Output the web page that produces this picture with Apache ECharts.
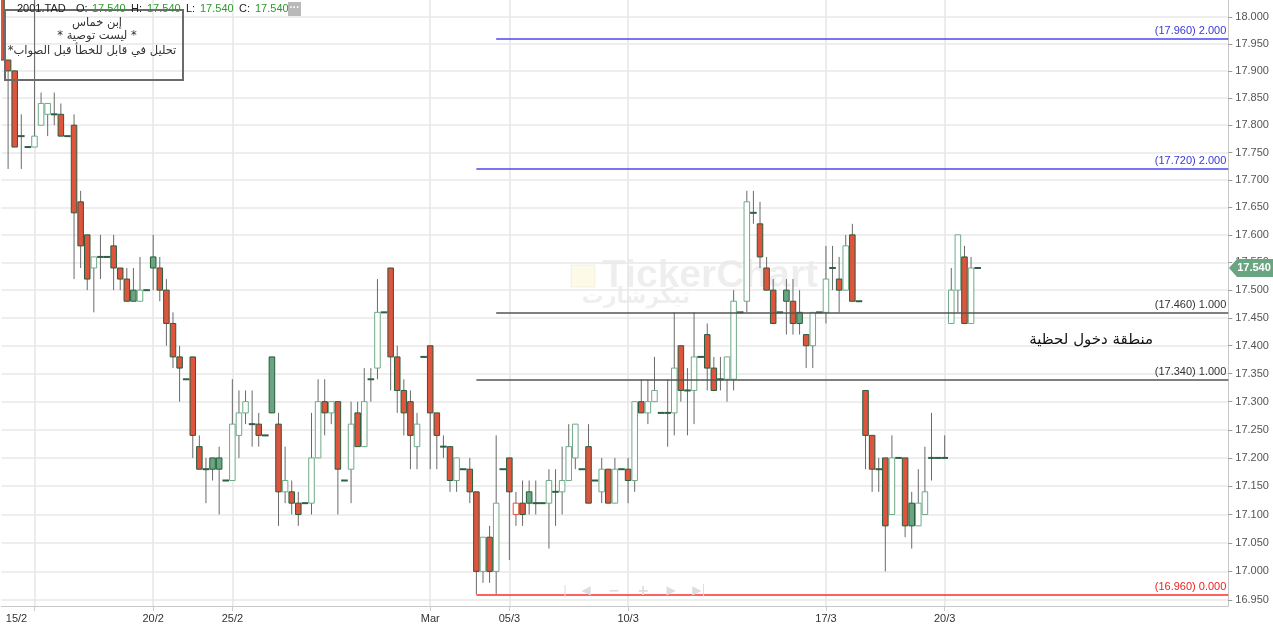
<!DOCTYPE html>
<html><head><meta charset="utf-8">
<script src="https://cdn.jsdelivr.net/npm/echarts@6/dist/echarts.min.js"></script>
<style>html,body{margin:0;padding:0;background:#fff}#c{width:1273px;height:628px}</style>
</head><body><div id="c"></div>
<script>
// ---- data ----
const tickLabels = ['15/2','20/2','25/2','Mar','05/3','10/3','17/3','20/3'];
const tickIndex = [5,23,35,65,77,95,125,143];
const yTicks = [16.95,17.00,17.05,17.10,17.15,17.20,17.25,17.30,17.35,17.40,17.45,17.50,17.55,17.60,17.65,17.70,17.75,17.80,17.85,17.90,17.95,18.00];

const opens = [
18.06,17.92,17.90,17.78,17.76,17.76,17.80,17.82,17.82,17.82,
17.78,17.80,17.66,17.60,17.54,17.56,17.56,17.58,17.54,17.52,
17.50,17.48,17.50,17.56,17.54,17.50,17.44,17.38,17.34,17.38,
17.22,17.18,17.20,17.20,17.16,17.16,17.24,17.28,17.26,17.26,
17.24,17.38,17.26,17.14,17.14,17.12,17.12,17.12,17.20,17.30,
17.28,17.30,17.16,17.18,17.28,17.22,17.34,17.36,17.46,17.54,
17.38,17.32,17.30,17.22,17.38,17.40,17.28,17.22,17.22,17.16,
17.18,17.18,17.14,17.00,17.06,17.00,17.18,17.20,17.10,17.12,
17.14,17.12,17.12,17.12,17.14,17.14,17.16,17.20,17.18,17.22,
17.16,17.14,17.18,17.12,17.18,17.18,17.16,17.30,17.28,17.30,
17.28,17.28,17.28,17.40,17.32,17.32,17.38,17.42,17.36,17.34,
17.34,17.34,17.46,17.48,17.64,17.62,17.54,17.50,17.46,17.50,
17.48,17.46,17.42,17.40,17.46,17.46,17.54,17.52,17.50,17.60,
17.48,17.32,17.24,17.18,17.20,17.10,17.20,17.20,17.12,17.08,
17.10,17.20,17.20,17.20,17.44,17.50,17.56,17.44,17.54];
const highs = [
18.08,17.92,17.90,17.82,17.76,18.04,17.86,17.84,17.86,17.84,
17.78,17.82,17.68,17.60,17.56,17.60,17.56,17.60,17.54,17.54,
17.54,17.56,17.50,17.60,17.56,17.52,17.46,17.40,17.34,17.38,
17.24,17.20,17.20,17.22,17.16,17.34,17.32,17.32,17.32,17.28,
17.24,17.38,17.28,17.22,17.16,17.14,17.12,17.28,17.34,17.34,
17.30,17.30,17.16,17.30,17.30,17.36,17.36,17.52,17.46,17.54,
17.40,17.34,17.32,17.28,17.38,17.40,17.28,17.24,17.22,17.20,
17.18,17.20,17.14,17.06,17.08,17.24,17.18,17.20,17.14,17.16,
17.16,17.16,17.12,17.18,17.18,17.22,17.26,17.26,17.18,17.26,
17.16,17.20,17.18,17.20,17.18,17.20,17.30,17.34,17.34,17.38,
17.28,17.34,17.46,17.40,17.36,17.46,17.38,17.44,17.38,17.38,
17.38,17.50,17.46,17.68,17.68,17.66,17.56,17.52,17.46,17.52,
17.52,17.50,17.42,17.46,17.46,17.58,17.58,17.56,17.60,17.62,
17.48,17.32,17.24,17.20,17.20,17.24,17.20,17.20,17.14,17.18,
17.22,17.28,17.20,17.24,17.54,17.60,17.58,17.56,17.54];
const lows = [
17.92,17.72,17.76,17.72,17.76,17.76,17.80,17.78,17.80,17.78,
17.78,17.52,17.54,17.50,17.46,17.52,17.56,17.50,17.50,17.48,
17.48,17.48,17.50,17.50,17.48,17.40,17.36,17.30,17.34,17.20,
17.18,17.12,17.16,17.10,17.16,17.16,17.20,17.26,17.22,17.22,
17.24,17.28,17.08,17.12,17.10,17.08,17.12,17.10,17.20,17.24,
17.26,17.10,17.16,17.12,17.22,17.22,17.30,17.34,17.46,17.32,
17.28,17.24,17.18,17.18,17.38,17.18,17.18,17.20,17.14,17.14,
17.18,17.12,16.96,16.98,16.98,16.96,17.18,17.02,17.08,17.08,
17.10,17.10,17.12,17.04,17.08,17.10,17.16,17.18,17.18,17.12,
17.16,17.12,17.12,17.12,17.18,17.12,17.14,17.28,17.26,17.30,
17.28,17.22,17.24,17.30,17.24,17.26,17.38,17.32,17.32,17.32,
17.30,17.32,17.46,17.46,17.62,17.54,17.50,17.44,17.46,17.42,
17.42,17.42,17.36,17.36,17.46,17.44,17.50,17.46,17.50,17.48,
17.48,17.18,17.14,17.14,17.00,17.10,17.20,17.06,17.04,17.08,
17.10,17.16,17.20,17.20,17.44,17.46,17.44,17.44,17.54];
const closes = [
17.92,17.90,17.76,17.78,17.76,17.78,17.84,17.84,17.82,17.78,
17.78,17.64,17.58,17.52,17.56,17.56,17.56,17.54,17.52,17.48,
17.48,17.50,17.50,17.54,17.50,17.44,17.38,17.36,17.34,17.24,
17.18,17.18,17.18,17.18,17.16,17.26,17.28,17.30,17.26,17.24,
17.24,17.28,17.14,17.16,17.12,17.10,17.12,17.20,17.30,17.28,
17.30,17.18,17.16,17.26,17.22,17.30,17.34,17.46,17.46,17.38,
17.32,17.28,17.24,17.26,17.38,17.28,17.24,17.22,17.16,17.20,
17.18,17.14,17.00,17.06,17.00,17.12,17.18,17.14,17.12,17.10,
17.12,17.12,17.12,17.16,17.14,17.16,17.22,17.26,17.18,17.12,
17.16,17.18,17.12,17.18,17.18,17.16,17.30,17.28,17.30,17.32,
17.28,17.28,17.36,17.32,17.32,17.38,17.38,17.36,17.32,17.34,
17.38,17.48,17.46,17.66,17.64,17.56,17.50,17.44,17.46,17.48,
17.44,17.44,17.40,17.46,17.46,17.52,17.54,17.50,17.58,17.48,
17.48,17.24,17.18,17.18,17.08,17.20,17.20,17.08,17.08,17.12,
17.14,17.20,17.20,17.20,17.50,17.60,17.44,17.54,17.54];

const levelPrices = [17.96, 17.72, 17.46, 17.34, 16.96];
const levelRatios = ['2.000', '2.000', '1.000', '1.000', '0.000'];
const levelStart = [75, 72, 75, 72, 72];

const symbolName = '2001.TAD';
const boxLines = ['إبن خماس', '* ليست توصية *', 'تحليل في قابل للخطأ قبل الصواب*'];
const noteText = 'منطقة دخول لحظية';

// ---- chart ----
const N = 187;
const cats = Array.from({length: N}, (_, i) => String(i));
const labelAt = {};
tickIndex.forEach((k, j) => { labelAt[k] = tickLabels[j]; });
const showAt = (i) => labelAt[i] !== undefined;
const candleData = opens.map((o, i) => [i, o, highs[i], lows[i], closes[i]]);
const rtl = (s) => '\u200F' + s + '\u200F';

const FL = '"Liberation Sans", Arial, sans-serif';
const FA = '"DejaVu Sans", sans-serif';
const COL = {red: '#de543d', greenFill: '#6aa582', dark: '#285c3d', hollow: '#6fab88', wick: '#6a6a6a', doji: '#2c6043'};
const levelColors = ['#4848f0', '#4848f0', '#555555', '#555555', '#ff2b2b'];
const levelTextColors = ['#3838d8', '#3838d8', '#333333', '#333333', '#ee2020'];

function renderCandle(params, api) {
  const k = params.dataIndex;
  const i = api.value(0), o = api.value(1), h = api.value(2), l = api.value(3), c = api.value(4);
  const prev = k > 0 ? closes[k - 1] : o;
  const pO = api.coord([i, o]);
  const x = pO[0];
  const step = api.coord([i + 1, o])[0] - x;
  const yO = pO[1], yC = api.coord([i, c])[1], yH = api.coord([i, h])[1], yL = api.coord([i, l])[1];
  const children = [];
  if (yL - yH > 0.5) {
    children.push({type: 'line', shape: {x1: x, y1: yH, x2: x, y2: yL}, style: {stroke: COL.wick, lineWidth: 1}});
  }
  if (Math.abs(o - c) < 1e-9) {
    children.push({type: 'rect', shape: {x: x - step / 2, y: yO - 1, width: step, height: 2}, style: {fill: COL.doji}});
  } else {
    const up = c >= prev - 1e-9;
    const filled = c < o;
    const bw = step * 0.84;
    let fill, stroke;
    if (filled) { fill = up ? COL.greenFill : COL.red; stroke = COL.dark; }
    else { fill = '#ffffff'; stroke = up ? COL.hollow : COL.red; }
    children.push({type: 'rect', shape: {x: x - bw / 2, y: Math.min(yO, yC), width: bw, height: Math.abs(yO - yC)},
      style: {fill: fill, stroke: stroke, lineWidth: 1}});
  }
  return {type: 'group', children: children};
}

function txt(id, x, y, text, font, fill, align, z) {
  return {type: 'text', id: id, x: x, y: y, z: z || 50, silent: true,
    style: {text: text, font: font, fill: fill, align: align || 'left', textAlign: align || 'left',
      verticalAlign: 'middle', textVerticalAlign: 'middle'}};
}

const last = closes.length - 1;
const green = '#2e9a2e';
const graphics = [
  {type: 'rect', id: 'wmlogo', z: -5, silent: true, shape: {x: 571, y: 265, width: 24, height: 22},
    style: {fill: 'rgba(245,225,130,0.18)', stroke: 'rgba(0,0,0,0.05)', lineWidth: 1}},
  txt('wm1', 602, 276, 'TickerChart', 'bold 39px ' + FL, 'rgba(0,0,0,0.065)', 'left', -5),
  txt('wm2', 636, 297, 'تيكرشارت', 'bold 22px ' + FA, 'rgba(0,0,0,0.065)', 'center', -5),
  txt('nav1', 565, 591, '|', '12px ' + FL, '#dddddd', 'center'),
  txt('nav2', 586, 591, '◀', '12px ' + FA, '#dddddd', 'center'),
  txt('nav3', 614, 591, '−', 'bold 14px ' + FA, '#dddddd', 'center'),
  txt('nav4', 643, 591, '+', 'bold 14px ' + FA, '#dddddd', 'center'),
  txt('nav5', 671, 591, '▶', '12px ' + FA, '#dddddd', 'center'),
  txt('nav6', 699, 591, '▶|', '12px ' + FA, '#dddddd', 'center'),
  {type: 'rect', id: 'box', z: 40, silent: true, shape: {x: 5, y: 10, width: 178, height: 70},
    style: {fill: 'rgba(0,0,0,0)', stroke: '#6b6b6b', lineWidth: 2}},
  txt('b1', 97, 23, rtl(boxLines[0]), '11.5px ' + FA, '#333', 'center'),
  txt('b2', 97, 36, rtl(boxLines[1]), '11.5px ' + FA, '#333', 'center'),
  txt('b3', 92, 51, rtl(boxLines[2]), '11.5px ' + FA, '#333', 'center'),
  txt('h0', 17, 9, symbolName, '11px ' + FL, '#222'),
  txt('h1', 76, 9, 'O:', '11px ' + FL, '#222'),
  txt('h2', 92, 9, opens[last].toFixed(3), '11px ' + FL, green),
  txt('h3', 131, 9, 'H:', '11px ' + FL, '#222'),
  txt('h4', 147, 9, highs[last].toFixed(3), '11px ' + FL, green),
  txt('h5', 186, 9, 'L:', '11px ' + FL, '#222'),
  txt('h6', 200, 9, lows[last].toFixed(3), '11px ' + FL, green),
  txt('h7', 239, 9, 'C:', '11px ' + FL, '#222'),
  txt('h8', 255, 9, closes[last].toFixed(3), '11px ' + FL, green),
  {type: 'rect', id: 'btn', z: 50, silent: true, shape: {x: 288, y: 2, width: 13, height: 14}, style: {fill: '#b9b9b9'}},
  txt('btnt', 294.5, 8, '···', 'bold 10px ' + FL, '#ffffff', 'center'),
  txt('note', 1153, 340, rtl(noteText), '15px ' + FA, '#111111', 'right')
];

const option = {
  animation: false,
  backgroundColor: '#ffffff',
  grid: {left: 1.5, right: 44.7, top: 0, bottom: 22, containLabel: false, outerBoundsMode: 'none'},
  xAxis: {
    type: 'category', data: cats, boundaryGap: false,
    axisLine: {show: true, lineStyle: {color: '#c8c8c8', width: 1}},
    axisTick: {show: true, interval: (i) => showAt(i), length: 5, lineStyle: {color: '#cccccc'}},
    axisLabel: {
      interval: (i) => showAt(i), margin: 7, color: '#333', fontSize: 11, fontFamily: FL,
      formatter: (v) => { const t = labelAt[Number(v)] || ''; return Number(v) === tickIndex[0] ? '{s|' + t + '}' : t; },
      rich: {s: {color: '#333', fontSize: 11, fontFamily: FL, padding: [0, 36, 0, 0]}}
    },
    splitLine: {show: true, interval: (i) => showAt(i), lineStyle: {color: '#e6e6e6', width: 1.5}}
  },
  yAxis: {
    type: 'log', logBase: 10, position: 'right', min: 16.9395, max: 18.0312,
    axisLine: {show: true, lineStyle: {color: '#c8c8c8', width: 1}},
    axisTick: {show: true, customValues: yTicks, length: 4, lineStyle: {color: '#999999'}},
    axisLabel: {show: true, customValues: yTicks, formatter: (v) => Number(v).toFixed(3), color: '#555', fontSize: 11, fontFamily: FL, margin: 7},
    splitLine: {show: true, lineStyle: {color: '#e8e8e8', width: 1.5}}
  },
  series: [
    {
      type: 'custom', name: 'candles', data: candleData, clip: true,
      encode: {x: 0, y: [1, 2, 3, 4]},
      renderItem: renderCandle, z: 5
    },
    {
      type: 'line', name: 'levels', data: [], silent: true, z: 4,
      markLine: {
        symbol: ['none', 'none'], silent: true, animation: false,
        data: levelPrices.map((p, j) => [
          {coord: [levelStart[j], p],
           lineStyle: {color: levelColors[j], width: 1.5, type: 'solid'},
           label: {show: true, position: 'insideEndTop', distance: [2, 2],
             formatter: '(' + p.toFixed(3) + ') ' + levelRatios[j],
             color: levelTextColors[j], fontSize: 11, fontFamily: FL}},
          {coord: [N - 1, p]}
        ])
      }
    }
  ],
  graphic: graphics
};

const chart = echarts.init(document.getElementById('c'));
chart.setOption(option);
const py = chart.convertToPixel({yAxisIndex: 0}, closes[last]);
option.graphic = graphics.concat([
  {type: 'polygon', id: 'tag', z: 60, silent: true,
    shape: {points: [[1229, py], [1237, py - 9], [1273, py - 9], [1273, py + 9], [1237, py + 9]]},
    style: {fill: '#6aa582'}},
  txt('tagt', 1254, py, closes[last].toFixed(3), 'bold 11px ' + FL, '#ffffff', 'center', 61)
]);
chart.setOption(option, true);
</script></body></html>
